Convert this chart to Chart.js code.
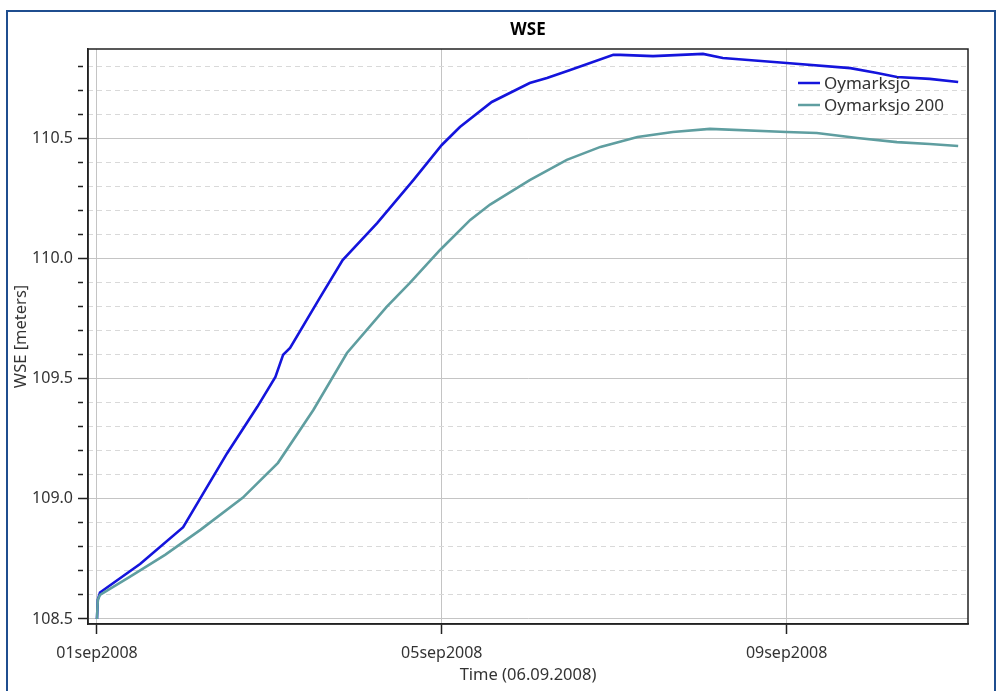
<!DOCTYPE html>
<html>
<head>
<meta charset="utf-8">
<script src="https://cdn.jsdelivr.net/npm/chart.js@4.4.1/dist/chart.umd.min.js"></script>
<style>
html,body{margin:0;padding:0;background:#fff;}
#wrap{position:relative;width:1000px;height:691px;overflow:hidden;background:#fff;}
#frame{position:absolute;left:6px;top:10px;width:990px;height:720px;border:2px solid #1f4e8f;box-sizing:border-box;}
#c{position:absolute;left:0;top:0;}
</style>
</head>
<body>
<div id="wrap"><div id="frame"></div><canvas id="c" width="1000" height="691"></canvas></div>
<script>
// ---- data ----
const xTickLabels = ['01sep2008', '05sep2008', '09sep2008'];
const yTickLabels = ['108.5', '109.0', '109.5', '110.0', '110.5'];
const seriesNames = ['Oymarksjo', 'Oymarksjo 200'];

// days since 01sep2008 00:00
const oymDays = [0, 0.01, 0.035, 0.50, 1.00, 1.51, 1.86, 2.07, 2.16, 2.24, 2.59, 2.85, 3.25, 3.67, 4.00, 4.21, 4.58, 5.02, 5.22, 5.49, 5.99, 6.07, 6.45, 7.03, 7.26, 8.00, 8.74, 9.05, 9.28, 9.66, 9.99];
const oymWSE  = [108.50, 108.58, 108.61, 108.729, 108.882, 109.19, 109.383, 109.507, 109.60, 109.628, 109.84, 109.994, 110.148, 110.327, 110.473, 110.548, 110.652, 110.731, 110.752, 110.785, 110.848, 110.848, 110.843, 110.852, 110.835, 110.814, 110.793, 110.773, 110.756, 110.748, 110.735];

const oym200Days = [0, 0.01, 0.035, 0.38, 0.79, 1.20, 1.69, 2.10, 2.51, 2.90, 3.36, 3.63, 3.98, 4.33, 4.56, 5.02, 5.45, 5.84, 6.27, 6.68, 7.11, 8.00, 8.35, 8.82, 9.28, 9.66, 9.99];
const oym200WSE  = [108.50, 108.58, 108.60, 108.675, 108.767, 108.871, 109.004, 109.15, 109.37, 109.607, 109.799, 109.899, 110.036, 110.161, 110.225, 110.327, 110.411, 110.465, 110.506, 110.527, 110.54, 110.527, 110.523, 110.502, 110.485, 110.477, 110.469];

// ---- helpers ----
const FONT = 'Noto Sans';
const Y_MIN = 108.479, Y_MAX = 110.8725;
const X_MIN = -0.104, X_MAX = 10.104;
function isMajor(v) {
  const k = (v - 108.5) / 0.5;
  return Math.abs(k - Math.round(k)) < 1e-6;
}
function toPoints(xs, ys) { return xs.map((x, i) => ({x: x, y: ys[i]})); }

const plotFrame = {
  id: 'plotFrame',
  afterDraw(chart) {
    const {ctx, chartArea: a} = chart;
    ctx.save();
    ctx.strokeStyle = '#222';
    ctx.lineWidth = 1.5;
    ctx.strokeRect(a.left, a.top, a.right - a.left, a.bottom - a.top);
    ctx.restore();
  }
};

const insideLegend = {
  id: 'insideLegend',
  afterDraw(chart) {
    const {ctx, chartArea: a} = chart;
    const x0 = a.right - 170, y0 = a.top + 34;
    ctx.save();
    ctx.font = '17px "' + FONT + '"';
    ctx.textBaseline = 'middle';
    ctx.textAlign = 'left';
    chart.data.datasets.forEach((ds, i) => {
      const y = y0 + i * 22;
      ctx.strokeStyle = ds.borderColor;
      ctx.lineWidth = 2.5;
      ctx.beginPath(); ctx.moveTo(x0, y); ctx.lineTo(x0 + 22, y); ctx.stroke();
      ctx.fillStyle = '#333';
      ctx.fillText(ds.label, x0 + 26, y + 1);
    });
    ctx.restore();
  }
};

new Chart(document.getElementById('c'), {
  type: 'line',
  data: {
    datasets: [
      { label: seriesNames[0], data: toPoints(oymDays, oymWSE), borderColor: '#1414dc', borderWidth: 2.6, pointRadius: 0, tension: 0, order: 1, xAxisID: 'x', yAxisID: 'y' },
      { label: seriesNames[1], data: toPoints(oym200Days, oym200WSE), borderColor: '#5f9ea0', borderWidth: 2.6, pointRadius: 0, tension: 0, order: 0, xAxisID: 'x', yAxisID: 'y' }
    ]
  },
  options: {
    responsive: false,
    animation: false,
    devicePixelRatio: 1,
    layout: { padding: { left: 8, right: 32, top: 10, bottom: 0 } },
    plugins: {
      legend: { display: false },
      tooltip: { enabled: false },
      title: {
        display: true, text: 'WSE', fullSize: false, color: '#000',
        font: { family: FONT, size: 17, weight: 'bold' },
        padding: { top: 10.3, bottom: 8.3 }
      }
    },
    scales: {
      x: {
        type: 'linear', min: X_MIN, max: X_MAX, position: 'bottom',
        ticks: {
          stepSize: 4, includeBounds: false, autoSkip: false, maxRotation: 0, padding: 10,
          color: '#333', font: { family: FONT, size: 16 },
          callback: (v) => { const i = Math.round(v / 4); return xTickLabels[i] !== undefined ? xTickLabels[i] : ''; }
        },
        grid: { color: '#c4c4c4', lineWidth: 1, tickLength: 10, tickColor: '#222', tickWidth: 1.5 },
        border: { color: '#222', width: 1.5 },
        title: { display: true, text: 'Time (06.09.2008)', color: '#333', font: { family: FONT, size: 16.5 }, padding: { top: 4.6, bottom: 5.6 } },
        afterFit: (s) => { s.height = 67; }
      },
      y: {
        type: 'linear', min: Y_MIN, max: Y_MAX, position: 'left',
        ticks: {
          stepSize: 0.1, includeBounds: false, autoSkip: false, padding: 5,
          color: '#333', font: { family: FONT, size: 16 },
          callback: (v) => { if (!isMajor(v)) return ''; const r = Math.round((v - 108.5) / 0.5); return yTickLabels[r] !== undefined ? yTickLabels[r] : ''; }
        },
        grid: {
          color: (c) => (c.tick && isMajor(c.tick.value)) ? '#c4c4c4' : 'rgba(0,0,0,0)',
          lineWidth: 1, tickLength: 10, tickColor: '#222', tickWidth: 1.5,
          tickBorderDash: (c) => (c.tick && isMajor(c.tick.value)) ? [] : [5, 20]
        },
        border: { color: '#222', width: 1.5 },
        title: { display: true, text: 'WSE [meters]', color: '#333', font: { family: FONT, size: 16.5 }, padding: { top: 3, bottom: 4 } },
        afterFit: (s) => { s.width = 80; }
      },
      yMinor: {
        type: 'linear', min: Y_MIN, max: Y_MAX, position: 'left', display: true,
        ticks: { display: false, stepSize: 0.1, includeBounds: false, autoSkip: false },
        grid: {
          drawTicks: false, lineWidth: 1,
          color: (c) => (c.tick && !isMajor(c.tick.value)) ? '#d9d9d9' : 'rgba(0,0,0,0)'
        },
        border: { display: false, dash: [5, 4] },
        title: { display: false },
        afterFit: (s) => { s.width = 0; }
      }
    }
  },
  plugins: [plotFrame, insideLegend]
});
</script>
</body>
</html>
